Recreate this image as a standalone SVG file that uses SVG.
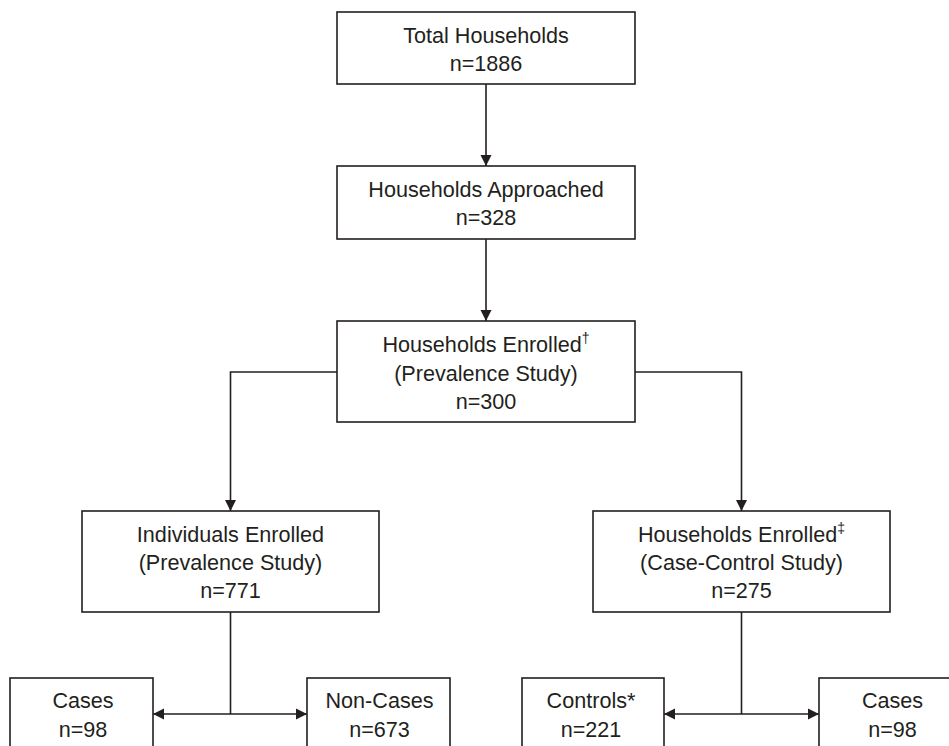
<svg xmlns="http://www.w3.org/2000/svg" width="949" height="746" viewBox="0 0 949 746">
<style>
.box{fill:#fff;stroke:#231f20;stroke-width:1.6}
.t{font-family:"Liberation Sans",Arial,Helvetica,sans-serif;font-size:21.6px;fill:#231f20;text-anchor:middle}
.sup{font-size:14px}
.ln{fill:none;stroke:#231f20;stroke-width:1.6}
</style>
<defs>
<marker id="ah" markerUnits="userSpaceOnUse" viewBox="0 0 11 12" markerWidth="11" markerHeight="12" refX="11" refY="6" orient="auto-start-reverse">
<path d="M0,0.5 L11,6 L0,11.5 z" fill="#231f20"/>
</marker>
</defs>
<rect width="949" height="746" fill="#fff"/>
<g id="connectors">
<line class="ln" x1="486" y1="84" x2="486" y2="166" marker-end="url(#ah)"/>
<line class="ln" x1="486" y1="239" x2="486" y2="321" marker-end="url(#ah)"/>
<polyline class="ln" points="337,372 230.5,372 230.5,511" marker-end="url(#ah)"/>
<polyline class="ln" points="635,372 741.5,372 741.5,511" marker-end="url(#ah)"/>
<line class="ln" x1="230.5" y1="612" x2="230.5" y2="714"/>
<line class="ln" x1="153" y1="714" x2="307" y2="714" marker-start="url(#ah)" marker-end="url(#ah)"/>
<line class="ln" x1="741.5" y1="612" x2="741.5" y2="714"/>
<line class="ln" x1="664" y1="714" x2="819" y2="714" marker-start="url(#ah)" marker-end="url(#ah)"/>
</g>
<g id="total">
<rect class="box" x="337" y="12" width="298" height="72"/>
<text class="t" x="486" y="43">Total Households</text>
<text class="t" x="486" y="71">n=1886</text>
</g>
<g id="approached">
<rect class="box" x="337" y="166" width="298" height="73"/>
<text class="t" x="486" y="197">Households Approached</text>
<text class="t" x="486" y="225">n=328</text>
</g>
<g id="enrolled">
<rect class="box" x="337" y="321" width="298" height="101"/>
<text class="t" x="486" y="352">Households Enrolled<tspan class="sup" dy="-9">†</tspan></text>
<text class="t" x="486" y="380.5">(Prevalence Study)</text>
<text class="t" x="486" y="409">n=300</text>
</g>
<g id="individuals">
<rect class="box" x="82" y="511" width="297" height="101"/>
<text class="t" x="230.5" y="541.5">Individuals Enrolled</text>
<text class="t" x="230.5" y="570">(Prevalence Study)</text>
<text class="t" x="230.5" y="598">n=771</text>
</g>
<g id="casecontrol">
<rect class="box" x="593" y="511" width="297" height="101"/>
<text class="t" x="741.5" y="541.5">Households Enrolled<tspan class="sup" dy="-9">‡</tspan></text>
<text class="t" x="741.5" y="570">(Case-Control Study)</text>
<text class="t" x="741.5" y="598">n=275</text>
</g>
<g id="cases1">
<rect class="box" x="10" y="678" width="143" height="90"/>
<text class="t" x="83" y="708">Cases</text>
<text class="t" x="83" y="737">n=98</text>
</g>
<g id="noncases">
<rect class="box" x="307" y="678" width="143" height="90"/>
<text class="t" x="379.5" y="708">Non-Cases</text>
<text class="t" x="379.5" y="737">n=673</text>
</g>
<g id="controls">
<rect class="box" x="522" y="678" width="142" height="90"/>
<text class="t" x="591" y="708">Controls*</text>
<text class="t" x="591" y="737">n=221</text>
</g>
<g id="cases2">
<rect class="box" x="819" y="678" width="143" height="90"/>
<text class="t" x="892.5" y="708">Cases</text>
<text class="t" x="892.5" y="737">n=98</text>
</g>
</svg>
